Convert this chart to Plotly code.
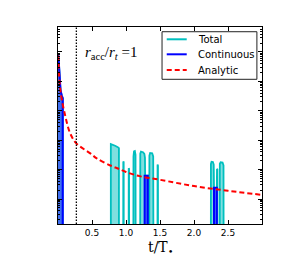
import plotly.graph_objects as go

# ---- data ----
t_total = [0.0, 0.005, 0.02, 0.037, 0.055, 0.07, 0.07,
           0.777, 0.777, 0.80, 0.84, 0.88, 0.896, 0.896,
           0.958, 0.960, 0.966, 0.968,
           1.038, 1.040, 1.045, 1.047,
           1.105, 1.110, 1.118, 1.130, 1.140, 1.145,
           1.206, 1.210, 1.220, 1.250, 1.270, 1.279, 1.281, 1.320, 1.322,
           1.340, 1.344, 1.355, 1.385, 1.400, 1.408,
           1.462, 1.464, 1.470, 1.472,
           2.246, 2.249, 2.258, 2.278, 2.290, 2.294, 2.336, 2.338, 2.344, 2.346,
           2.377, 2.380, 2.392, 2.420, 2.434, 2.438, 3.0]
rate_total = [8.9e-2, 7.6e-2, 2.3e-2, 5.0e-3, 3.3e-3, 2.7e-3, 0.0,
              0.0, 7.4e-5, 7.2e-5, 6.5e-5, 5.8e-5, 5.4e-5, 0.0,
              0.0, 1.9e-5, 1.8e-5, 0.0,
              0.0, 1.12e-5, 1.07e-5, 0.0,
              0.0, 2.8e-5, 4.2e-5, 4.3e-5, 3.2e-5, 0.0,
              0.0, 3.5e-5, 4.1e-5, 3.9e-5, 3.4e-5, 2.5e-5, 6.2e-6, 6.2e-6, 0.0,
              0.0, 3.0e-5, 3.7e-5, 3.6e-5, 2.8e-5, 0.0,
              0.0, 1.48e-5, 1.35e-5, 0.0,
              0.0, 1.58e-5, 1.86e-5, 1.82e-5, 1.48e-5, 2.4e-6, 2.4e-6, 1.05e-5, 1.02e-5, 0.0,
              0.0, 1.58e-5, 1.78e-5, 1.74e-5, 1.38e-5, 0.0, 0.0]

t_cont = [0.0, 0.005, 0.02, 0.037, 0.055, 0.07, 0.07,
          1.274, 1.274, 1.320, 1.320,
          2.294, 2.294, 2.336, 2.336, 3.0]
rate_cont = [8.9e-2, 7.6e-2, 2.3e-2, 5.0e-3, 3.3e-3, 2.7e-3, 0.0,
             0.0, 6.2e-6, 6.2e-6, 0.0,
             0.0, 2.4e-6, 2.4e-6, 0.0, 0.0]

t_analytic = [0.005, 0.035, 0.11, 0.18, 0.27, 0.48, 0.57, 0.77, 0.89,
              1.0, 1.2, 1.5, 2.0, 2.5, 3.0]
rate_analytic = [7.6e-2, 5.0e-3, 6.2e-4, 1.7e-4, 7.8e-5, 3.5e-5, 2.4e-5,
                 1.38e-5, 1.07e-5, 8.3e-6, 6.0e-6, 4.5e-6, 2.75e-6, 1.9e-6, 1.38e-6]

t_ratio_one = 0.27          # time where r_acc / r_t = 1
x_ticks = [0.5, 1.0, 1.5, 2.0, 2.5]
x_tick_labels = ["0.5", "1.0", "1.5", "2.0", "2.5"]
legend_names = ["Total", "Continuous", "Analytic"]

FLOOR = 1e-12  # zero rates cannot be shown on a log axis


def floored(vals):
    return [v if v > 0 else FLOOR for v in vals]


CYAN = "#00bfbf"
BLUE = "#0000ff"
RED = "#ff0000"

fig = go.Figure()
fig.add_trace(go.Scatter(x=t_total, y=floored(rate_total), mode="lines",
                         line=dict(color=CYAN, width=1.8), fill="tozeroy",
                         fillcolor="rgba(0,191,191,0.5)", name=legend_names[0],
                         showlegend=False))
fig.add_trace(go.Scatter(x=t_cont, y=floored(rate_cont), mode="lines",
                         line=dict(color=BLUE, width=2), fill="tozeroy",
                         fillcolor="rgba(0,0,255,0.5)", name=legend_names[1],
                         showlegend=False))
fig.add_trace(go.Scatter(x=t_analytic, y=rate_analytic, mode="lines",
                         line=dict(color=RED, width=2, dash="5px,3px"),
                         line_shape="spline", name=legend_names[2],
                         showlegend=False))
fig.add_vline(x=t_ratio_one, line=dict(color="black", width=1.3, dash="1.5px,1.5px"))

# ---- manual legend (matplotlib style) ----
L = dict(x0=0.510, x1=0.975, y0=0.7345, y1=0.976)
fig.add_shape(type="rect", xref="paper", yref="paper", **L,
              line=dict(color="#222222", width=1), fillcolor="white", layer="above")
rows = [0.9376, 0.8614, 0.7817]
styles = [dict(color=CYAN, width=2), dict(color=BLUE, width=2),
          dict(color=RED, width=2, dash="5px,3px")]
for yy, st, name in zip(rows, styles, legend_names):
    fig.add_shape(type="line", xref="paper", yref="paper", x0=0.533, x1=0.631,
                  y0=yy, y1=yy, line=st, layer="above")
    fig.add_annotation(xref="paper", yref="paper", x=0.675, y=yy, text=name,
                       showarrow=False, xanchor="left", yanchor="middle",
                       font=dict(family="DejaVu Sans", size=10, color="black"))

fig.add_annotation(xref="paper", yref="paper", x=0.121, y=0.868,
                   text="<i>r</i><sub>acc</sub>/<i>r</i><sub><i>t</i></sub> =1",
                   showarrow=False, xanchor="left", yanchor="middle",
                   font=dict(family="Liberation Serif", size=15, color="black"))
fig.add_annotation(xref="paper", yref="paper", x=0.5, y=-0.122,
                   text="t/T<sub>•</sub>", showarrow=False,
                   xanchor="center", yanchor="middle",
                   font=dict(family="DejaVu Serif", size=14, color="black"))

fig.update_layout(
    width=291, height=265,
    margin=dict(l=58, r=29, t=27, b=41),
    paper_bgcolor="white", plot_bgcolor="white",
    xaxis=dict(range=[0, 3], tickvals=x_ticks, ticktext=x_tick_labels,
               ticks="inside", ticklen=4, tickcolor="black", mirror="allticks",
               showline=True, linecolor="black", linewidth=1, showgrid=False,
               zeroline=False, tickfont=dict(family="DejaVu Sans", size=9, color="black")),
    yaxis=dict(type="log", range=[-6.85, -0.15], dtick=1, showticklabels=False,
               ticks="inside", ticklen=4, tickcolor="black", mirror="allticks",
               showline=True, linecolor="black", linewidth=1, showgrid=False,
               zeroline=False,
               minor=dict(ticks="inside", ticklen=2, tickcolor="black", dtick="D1",
                          showgrid=False)),
)

fig.write_html("out.html", config={"displayModeBar": False},
               post_script="document.body.style.margin='0';document.body.style.overflow='hidden';")
